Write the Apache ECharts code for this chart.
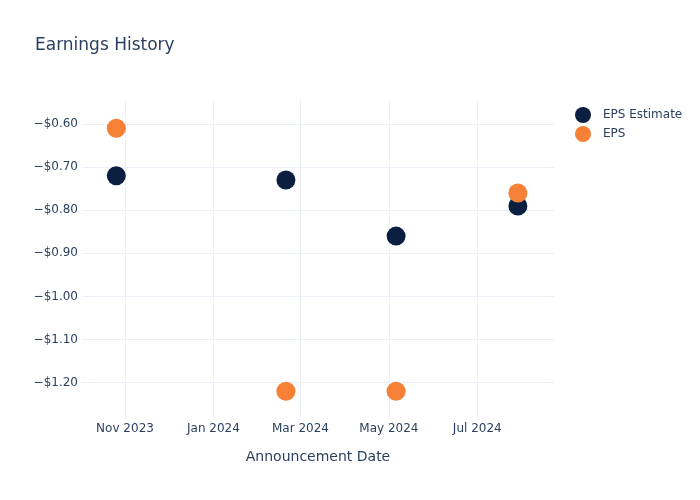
<!DOCTYPE html>
<html>
<head>
<meta charset="utf-8">
<script src="https://cdn.jsdelivr.net/npm/echarts@6/dist/echarts.min.js"></script>
<style>html,body{margin:0;padding:0;background:#fff}#c{width:700px;height:500px}</style>
</head>
<body>
<div id="c"></div>
<script>
const announcementDates = ['2023-10-26', '2024-02-20', '2024-05-06', '2024-07-29'];
const epsEstimate = [-0.72, -0.73, -0.86, -0.79];
const epsActual = [-0.61, -1.22, -1.22, -0.76];
const xTickDates = ['2023-11-01', '2024-01-01', '2024-03-01', '2024-05-01', '2024-07-01'];
const yTickValues = [-1.2, -1.1, -1.0, -0.9, -0.8, -0.7, -0.6];

const FONT = 'DejaVu Sans';
const TXT = '#2a3f5f';
const GRID = '#ebf0f8';
const months = ['Jan','Feb','Mar','Apr','May','Jun','Jul','Aug','Sep','Oct','Nov','Dec'];
const ts = s => { const p = s.split('-').map(Number); return new Date(p[0], p[1]-1, p[2]).getTime(); };

const chart = echarts.init(document.getElementById('c'), null, {renderer: 'canvas'});
chart.setOption({
  animation: false,
  backgroundColor: '#fff',
  textStyle: {fontFamily: FONT, color: TXT},
  title: {
    text: 'Earnings History', left: 35, top: 37, padding: 0,
    textStyle: {fontFamily: FONT, fontSize: 17, fontWeight: 'normal', color: TXT}
  },
  legend: {
    orient: 'vertical', left: 575, top: 107, padding: 0,
    itemWidth: 30, itemHeight: 16, itemGap: 3, icon: 'circle',
    textStyle: {fontFamily: FONT, fontSize: 12, color: TXT, padding: [0,0,0,0]},
    data: ['EPS Estimate', 'EPS']
  },
  grid: {left: 82, right: 146, top: 100, bottom: 80, containLabel: false},
  xAxis: {
    type: 'value',
    min: ts('2023-10-02') + 8*3600e3,
    max: ts('2024-08-22') + 22*3600e3,
    name: 'Announcement Date', nameLocation: 'middle', nameGap: 30,
    nameTextStyle: {fontFamily: FONT, fontSize: 14, color: TXT},
    axisLine: {show: false},
    axisTick: {show: false, customValues: xTickDates.map(ts)},
    axisLabel: {
      customValues: xTickDates.map(ts), margin: 3, hideOverlap: false,
      showMinLabel: true, showMaxLabel: true,
      fontFamily: FONT, fontSize: 12, color: TXT,
      formatter: v => { const d = new Date(v); return months[d.getMonth()] + ' ' + d.getFullYear(); }
    },
    splitLine: {show: true, lineStyle: {color: GRID, width: 1}}
  },
  yAxis: {
    type: 'value', min: -1.2865, max: -0.5443,
    axisLine: {show: false},
    axisTick: {show: false, customValues: yTickValues},
    axisLabel: {
      customValues: yTickValues, margin: 4, padding: [3, 0, 0, 0],
      fontFamily: FONT, fontSize: 12, color: TXT,
      formatter: v => (v < 0 ? '\u2212' : '') + '$' + Math.abs(v).toFixed(2)
    },
    splitLine: {show: true, lineStyle: {color: GRID, width: 1}}
  },
  series: [
    {
      name: 'EPS Estimate', type: 'scatter', symbol: 'circle', symbolSize: 19,
      itemStyle: {color: '#0b1f41', opacity: 1},
      data: announcementDates.map((d, i) => [ts(d), epsEstimate[i]])
    },
    {
      name: 'EPS', type: 'scatter', symbol: 'circle', symbolSize: 19,
      itemStyle: {color: '#f68036', opacity: 1},
      data: announcementDates.map((d, i) => [ts(d), epsActual[i]])
    }
  ]
});
</script>
</body>
</html>
